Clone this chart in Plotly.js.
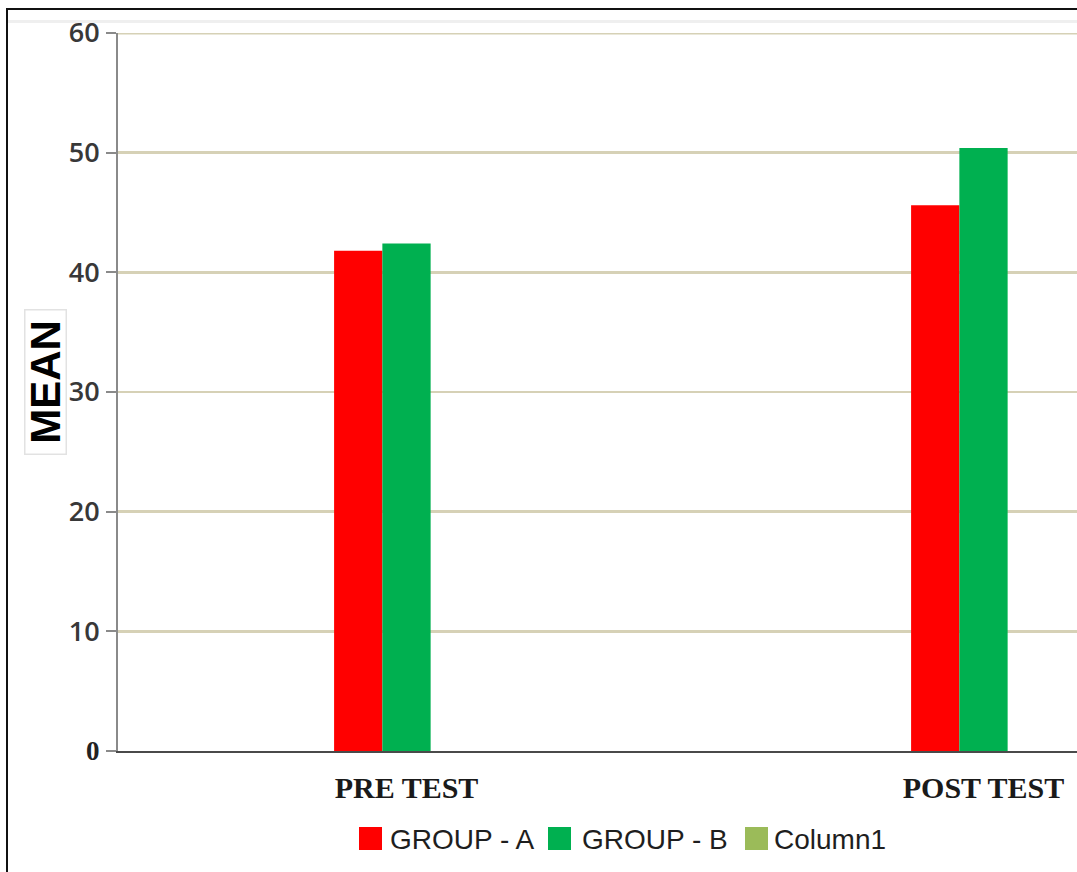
<!DOCTYPE html>
<html>
<head>
<meta charset="utf-8">
<script src="https://cdn.plot.ly/plotly-3.0.1.min.js"></script>
<style>
  html, body { margin: 0; padding: 0; background: #ffffff; }
  #wrap { position: relative; width: 1077px; height: 872px; overflow: hidden; }
  #chart { position: absolute; left: 0; top: 0; width: 1077px; height: 872px; }
  .frame-top { position: absolute; left: 7px; top: 8px; right: 0; height: 0; border-top: 2px solid #111; }
  .frame-left { position: absolute; left: 6px; top: 8px; bottom: 0; width: 0; border-left: 2px solid #111; }
  .rule-light { position: absolute; left: 8px; top: 20px; right: 0; height: 0; border-top: 3px solid #efefef; }
</style>
</head>
<body>
<div id="wrap">
  <div id="chart"></div>
  <div class="rule-light"></div>
  <div class="frame-top"></div>
  <div class="frame-left"></div>
</div>
<script>
// Test phases on the category axis
const categories = ["PRE TEST", "POST TEST"];

// Mean scores per group
const groupA = [41.8, 45.6];
const groupB = [42.4, 50.4];
const column1 = [null, null];

const seriesNames = ["GROUP - A", "GROUP - B", "Column1"];
const seriesValues = [groupA, groupB, column1];

// Y-axis ticks
const yTickVals = [0, 10, 20, 30, 40, 50, 60];
const yTickText = ["0", "10", "20", "30", "40", "50", "60"];

// Styling
const seriesColors = ["#ff0000", "#00b050", "#9bbb59"];
const gridColor = "#d6d1b6";

const W = 1077, H = 872;
const M = { l: 118, r: 0, t: 33, b: 121 };
const plotW = W - M.l - M.r, plotH = H - M.t - M.b;
const px = x => (x - M.l) / plotW;          // page pixel -> paper x
const py = y => (H - M.b - y) / plotH;      // page pixel -> paper y

const traces = seriesNames.map((name, i) => ({
  type: "bar",
  name: name,
  x: categories,
  y: seriesValues[i],
  marker: { color: seriesColors[i], line: { width: 0 } },
  showlegend: false,
  hoverinfo: "x+y+name"
}));

// Tick text: the zero label is set in a serif face
const tickText = yTickText.map(t => t === "0"
  ? '<span style="font-family:\'Liberation Serif\';font-weight:bold;color:#222">' + t + '</span>'
  : t);

// Legend drawn as swatches + labels below the axis
const swatchLeft = [359, 548, 745];
const labelLeft = [388, 580, 772];
const shapes = seriesNames.map((n, i) => ({
  type: "rect", xref: "paper", yref: "paper",
  x0: px(swatchLeft[i]), x1: px(swatchLeft[i] + 23),
  y0: py(850), y1: py(827),
  fillcolor: seriesColors[i], line: { width: 0 }
}));

// Top gridline at the axis maximum (drawn below the data)
shapes.push({
  type: "line", xref: "paper", yref: "y", layer: "below",
  x0: 0, x1: 1, y0: yTickVals[yTickVals.length - 1], y1: yTickVals[yTickVals.length - 1],
  line: { color: gridColor, width: 3 }
});

const annotations = seriesNames.map((n, i) => ({
  text: n, xref: "paper", yref: "paper",
  x: px(labelLeft[i]), y: py(839),
  xanchor: "left", yanchor: "middle", showarrow: false,
  font: { family: "Liberation Sans", size: 28, color: "#1e1e1e" }
}));

// Y-axis title in a light box
annotations.push({
  text: "<b>MEAN</b>", xref: "paper", yref: "paper",
  x: px(45), y: py(382), xanchor: "center", yanchor: "middle",
  showarrow: false, textangle: -90,
  width: 143, height: 40, borderpad: 0,
  bordercolor: "#e2e2e2", borderwidth: 1.5, bgcolor: "#ffffff",
  font: { family: "Liberation Sans", size: 42, color: "#000" }
});

const layout = {
  width: W, height: H,
  margin: M,
  paper_bgcolor: "#ffffff", plot_bgcolor: "#ffffff",
  barmode: "group",
  bargap: 0.749,
  bargroupgap: 0,
  showlegend: false,
  xaxis: {
    type: "category",
    range: [-0.5, -0.5 + plotW / 577],
    showline: true, linecolor: "#4a4a4a", linewidth: 2,
    ticks: "", showgrid: false, zeroline: false,
    tickfont: { family: "Liberation Serif", size: 30, color: "#1a1a1a", weight: "bold" },
    ticklabelstandoff: 9
  },
  yaxis: {
    range: [0, 60],
    tickvals: yTickVals, ticktext: tickText,
    showline: true, linecolor: "#8a8a8a", linewidth: 2,
    ticks: "outside", ticklen: 10, tickwidth: 2, tickcolor: "#8a8a8a",
    showgrid: true, gridcolor: gridColor, gridwidth: 2.5,
    zeroline: false,
    tickfont: { family: "Open Sans", size: 27, color: "#383838", weight: 600 },
    ticklabelstandoff: 1
  },
  shapes: shapes,
  annotations: annotations
};

Plotly.newPlot("chart", traces, layout, { displayModeBar: false, staticPlot: true });
</script>
</body>
</html>
